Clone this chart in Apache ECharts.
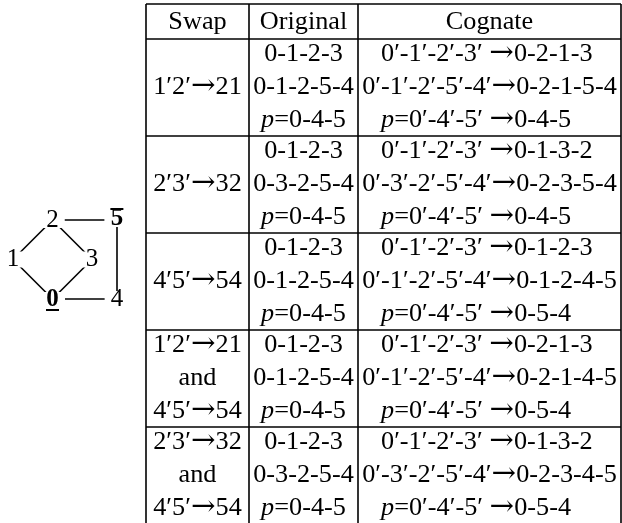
<!DOCTYPE html>
<html>
<head>
<meta charset="utf-8">
<title>Swap cognates</title>
<script src="https://cdn.jsdelivr.net/npm/echarts@6/dist/echarts.min.js"></script>
<style>
html, body { margin: 0; padding: 0; background: #fff; }
#main { width: 622px; height: 523px; }
</style>
</head>
<body>
<div id="main"></div>
<script>
// table content
var headers = ['Swap', 'Original', 'Cognate'];
var swapRows = [
  ['', '1′2′→21', ''],
  ['', '2′3′→32', ''],
  ['', '4′5′→54', ''],
  ['1′2′→21', 'and', '4′5′→54'],
  ['2′3′→32', 'and', '4′5′→54']
];
var originalRows = [
  ['0-1-2-3', '0-1-2-5-4', 'p=0-4-5'],
  ['0-1-2-3', '0-3-2-5-4', 'p=0-4-5'],
  ['0-1-2-3', '0-1-2-5-4', 'p=0-4-5'],
  ['0-1-2-3', '0-1-2-5-4', 'p=0-4-5'],
  ['0-1-2-3', '0-3-2-5-4', 'p=0-4-5']
];
var cognateRows = [
  ['0′-1′-2′-3′ →0-2-1-3', '0′-1′-2′-5′-4′→0-2-1-5-4', 'p=0′-4′-5′ →0-4-5'],
  ['0′-1′-2′-3′ →0-1-3-2', '0′-3′-2′-5′-4′→0-2-3-5-4', 'p=0′-4′-5′ →0-4-5'],
  ['0′-1′-2′-3′ →0-1-2-3', '0′-1′-2′-5′-4′→0-1-2-4-5', 'p=0′-4′-5′ →0-5-4'],
  ['0′-1′-2′-3′ →0-2-1-3', '0′-1′-2′-5′-4′→0-2-1-4-5', 'p=0′-4′-5′ →0-5-4'],
  ['0′-1′-2′-3′ →0-1-3-2', '0′-3′-2′-5′-4′→0-2-3-4-5', 'p=0′-4′-5′ →0-5-4']
];

// the little graph on the left
var graphNodes = ['1', '2', '3', '0', '5', '4'];
var nodeCols = [0, 1, 2, 1, 2.63, 2.63];
var nodeRows = [1, 0, 1, 2, 0, 2];
var graphEdges = [['1', '2'], ['2', '3'], ['1', '0'], ['3', '0'], ['2', '5'], ['5', '4'], ['0', '4']];

// layout
var FONT = '"Liberation Serif", "Times New Roman", serif';
var FS = 25, SX = 1.05;
var colX = [146, 249, 358, 621];
var tableTop = 4, headBottom = 39, groupH = 97;
var rowOff = [15, 48, 81];
var cogLeft = 381;

var myChart = echarts.init(document.getElementById('main'));

function fmt(s) {
  if (s.indexOf('p=') === 0) s = '{i|p}' + s.slice(1);
  s = s.replace('→', '{a|→}');
  return s;
}
var richIt = {
  i: { fontStyle: 'italic', fontSize: FS, fontFamily: FONT, fill: '#000' },
  a: { fontSize: 28, fontFamily: '"DejaVu Serif", serif', fill: '#000' }
};

function txt(s, x, y, align) {
  return {
    type: 'text', x: x, y: y, scaleX: SX, silent: true,
    style: {
      text: fmt(s), fontSize: FS, fontFamily: FONT, fill: '#000',
      textAlign: align, align: align,
      textVerticalAlign: 'middle', verticalAlign: 'middle',
      rich: richIt
    }
  };
}
function line(x1, y1, x2, y2) {
  return {
    type: 'line', silent: true,
    shape: { x1: x1, y1: y1, x2: x2, y2: y2 },
    style: { stroke: '#000', lineWidth: 1.6 }
  };
}

var els = [];
// horizontal rules
els.push(line(colX[0], tableTop, colX[3], tableTop));
els.push(line(colX[0], headBottom, colX[3], headBottom));
for (var g = 1; g < swapRows.length; g++) {
  var yy = headBottom + g * groupH;
  els.push(line(colX[0], yy, colX[3], yy));
}
// vertical rules
for (var c = 0; c < colX.length; c++) {
  els.push(line(colX[c], tableTop, colX[c], 530));
}
// header
for (var h = 0; h < headers.length; h++) {
  els.push(txt(headers[h], (colX[h] + colX[h + 1]) / 2, (tableTop + headBottom) / 2 + 1, 'center'));
}
// body
for (var g = 0; g < swapRows.length; g++) {
  var base = headBottom + g * groupH;
  for (var r = 0; r < 3; r++) {
    var y = base + rowOff[r];
    if (swapRows[g][r]) els.push(txt(swapRows[g][r], (colX[0] + colX[1]) / 2, y, 'center'));
    els.push(txt(originalRows[g][r], (colX[1] + colX[2]) / 2, y, 'center'));
    if (r === 1) {
      els.push(txt(cognateRows[g][r], (colX[2] + colX[3]) / 2, y, 'center'));
    } else {
      els.push(txt(cognateRows[g][r], cogLeft, y, 'left'));
    }
  }
}

var nodeData = [];
for (var i = 0; i < graphNodes.length; i++) {
  var item = { name: graphNodes[i], value: [nodeCols[i], nodeRows[i]] };
  if (graphNodes[i] === '0') {
    item.label = { formatter: '{b|0}\n{u| }', offset: [0, 3] };
  } else if (graphNodes[i] === '5') {
    item.label = { formatter: '{u| }\n{b|5}', offset: [0, -3] };
  }
  nodeData.push(item);
}
var links = [];
for (var i = 0; i < graphEdges.length; i++) {
  links.push({ source: graphEdges[i][0], target: graphEdges[i][1] });
}

myChart.setOption({
  animation: false,
  grid: { left: 13, top: 220, width: 118.5, height: 79 },
  xAxis: { type: 'value', min: 0, max: 3, show: false },
  yAxis: { type: 'value', min: 0, max: 2, inverse: true, show: false },
  graphic: els,
  series: [{
    type: 'graph',
    coordinateSystem: 'cartesian2d',
    silent: true,
    symbolSize: 1,
    itemStyle: { color: 'rgba(0,0,0,0)' },
    lineStyle: { color: '#000', width: 1.6, opacity: 1, curveness: 0 },
    label: {
      show: true, position: 'inside',
      fontFamily: FONT, fontSize: FS, color: '#000',
      backgroundColor: '#fff', padding: [0, 6], lineHeight: 16,
      rich: {
        b: { fontWeight: 'bold', fontFamily: FONT, fontSize: FS, lineHeight: 16 },
        u: { width: 13, height: 2, lineHeight: 4, backgroundColor: '#000', fontSize: 2 }
      }
    },
    data: nodeData,
    links: links
  }]
});
</script>
</body>
</html>
